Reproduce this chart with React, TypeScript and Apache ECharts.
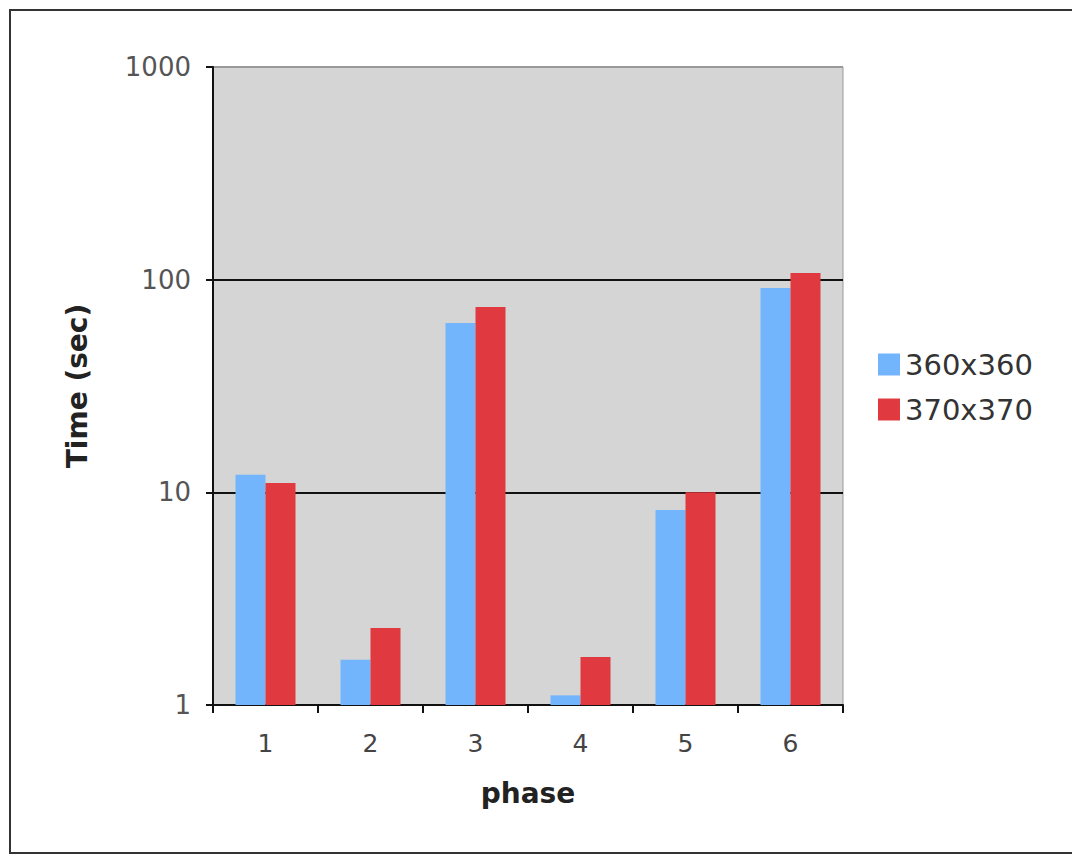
import React, { useEffect, useRef } from "react";
import * as echarts from "echarts";

const phases = ["1", "2", "3", "4", "5", "6"];
const series360 = [12.1, 1.63, 62.6, 1.11, 8.26, 91.4];
const series370 = [11.06, 2.3, 74.4, 1.68, 10.0, 107.5];
const seriesNames = ["360x360", "370x370"];

export default function App() {
  const ref = useRef<HTMLDivElement>(null);
  useEffect(() => {
    if (!ref.current) return;
    const chart = echarts.init(ref.current, null, { renderer: "svg" });
    const font = "DejaVu Sans";
    chart.setOption({
      animation: false,
      backgroundColor: "#ffffff",
      graphic: [
        {
          type: "rect",
          shape: { x: 10, y: 10, width: 1080, height: 843 },
          style: { fill: "none", stroke: "#333", lineWidth: 2 },
          silent: true,
        },
      ],
      grid: {
        left: 213,
        right: 229,
        top: 67,
        bottom: 151,
        show: true,
        backgroundColor: "#d5d5d5",
        borderColor: "#9a9a9a",
        borderWidth: 1,
      },
      legend: {
        orient: "vertical",
        left: 873,
        top: 345,
        itemWidth: 22,
        itemHeight: 22,
        itemGap: 16,
        icon: "rect",
        textStyle: { fontFamily: font, fontSize: 29, color: "#333" },
        data: seriesNames,
      },
      xAxis: {
        type: "category",
        data: phases,
        boundaryGap: true,
        name: "phase",
        nameLocation: "middle",
        nameGap: 74,
        nameTextStyle: { fontFamily: font, fontSize: 28, fontWeight: "bold", color: "#222" },
        axisLine: { show: true, lineStyle: { color: "#111", width: 2 } },
        axisTick: { show: true, alignWithLabel: false, length: 8, lineStyle: { color: "#111", width: 2 } },
        axisLabel: { fontFamily: font, fontSize: 25, color: "#444", margin: 26 },
        splitLine: { show: false },
      },
      yAxis: {
        type: "log",
        logBase: 10,
        min: 1,
        max: 1000,
        name: "Time (sec)",
        nameLocation: "middle",
        nameGap: 122,
        nameRotate: 90,
        nameTextStyle: { fontFamily: font, fontSize: 28, fontWeight: "bold", color: "#222" },
        axisLine: { show: true, lineStyle: { color: "#111", width: 2 } },
        axisTick: { show: true, inside: false, length: 7, lineStyle: { color: "#111", width: 2 } },
        minorTick: { show: false },
        axisLabel: {
          fontFamily: font,
          fontSize: 26,
          color: "#555",
          margin: 22,
          formatter: (v: number) => String(Math.round(v)),
        },
        splitLine: { show: true, lineStyle: { color: ["#111", "#111", "#111", "#9a9a9a"], width: 2 } },
      },
      series: [
        {
          name: seriesNames[0],
          type: "bar",
          data: series360,
          barWidth: 30,
          barGap: "0%",
          itemStyle: { color: "#72b5fc" },
        },
        {
          name: seriesNames[1],
          type: "bar",
          data: series370,
          barWidth: 30,
          barGap: "0%",
          itemStyle: { color: "#e03a40" },
        },
      ],
    });
    return () => chart.dispose();
  }, []);
  return (
    <div
      ref={ref}
      style={{ position: "fixed", left: 0, top: 0, width: 1072, height: 856 }}
    />
  );
}
